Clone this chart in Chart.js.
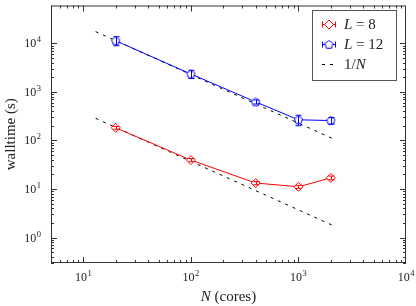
<!DOCTYPE html>
<html>
<head>
<meta charset="utf-8">
<script src="https://cdn.jsdelivr.net/npm/chart.js@4/dist/chart.umd.min.js"></script>
<style>
  html, body { margin: 0; padding: 0; background: #fff; }
</style>
</head>
<body>
<canvas id="walltime" width="416" height="306"></canvas>
<script>
// cores used in each run
const cores = [20, 100, 400, 1000, 2000];

// walltime (s) for each system size, with errors
const wallL8 = [182, 39.5, 13.3, 11.1, 17];
const errL8 = [12, 3, 1, 0.8, 1.5];
const wallL12 = [11300, 2330, 622, 266, 257];
const errL12 = [2400, 450, 60, 65, 40];

// ideal 1/N reference lines (end points)
const idealN = [13, 2100];
const idealUpper = [17400, 108];
const idealLower = [285, 1.77];

const xTicks = [10, 100, 1000, 10000];
const yTicks = [1, 10, 100, 1000, 10000];

const serif = '"Liberation Serif", "DejaVu Serif", serif';
const RED = '#ff0000';
const BLUE = '#0000ff';

function pentagon(color) {
  const c = document.createElement('canvas');
  c.width = 11; c.height = 11;
  const g = c.getContext('2d');
  g.beginPath();
  for (let i = 0; i < 5; i++) {
    const a = -Math.PI / 2 + i * 2 * Math.PI / 5;
    const px = 5.5 + 4.3 * Math.cos(a), py = 5.8 + 4.3 * Math.sin(a);
    i === 0 ? g.moveTo(px, py) : g.lineTo(px, py);
  }
  g.closePath();
  g.fillStyle = '#fff';
  g.fill();
  g.strokeStyle = color;
  g.lineWidth = 1;
  g.stroke();
  return c;
}
const pentBlue = pentagon(BLUE);

function drawPow(ctx, exp, x, y, align) {
  ctx.font = '12px ' + serif;
  const wb = ctx.measureText('10').width;
  ctx.font = '8.5px ' + serif;
  const we = ctx.measureText(String(exp)).width;
  const w = wb + we + 0.5;
  let left = align === 'right' ? x - w : x - w / 2;
  ctx.textBaseline = 'alphabetic';
  ctx.textAlign = 'left';
  ctx.font = '12px ' + serif;
  ctx.fillText('10', left, y + 4);
  ctx.font = '8.5px ' + serif;
  ctx.fillText(String(exp), left + wb + 0.5, y - 1);
}

// frame, inward ticks, tick labels, titles
const axisFrame = {
  id: 'axisFrame',
  afterDraw(chart) {
    const { ctx, chartArea: a, scales: { x, y } } = chart;
    ctx.save();
    ctx.strokeStyle = '#333';
    ctx.lineWidth = 1;
    ctx.strokeRect(a.left + 0.5, a.top + 0.5, a.right - a.left - 1, a.bottom - a.top - 1);

    const tick = (px, isX, len) => {
      px = Math.round(px) + 0.5;
      ctx.beginPath();
      if (isX) {
        ctx.moveTo(px, a.bottom); ctx.lineTo(px, a.bottom - len);
        ctx.moveTo(px, a.top); ctx.lineTo(px, a.top + len);
      } else {
        ctx.moveTo(a.left, px); ctx.lineTo(a.left + len, px);
        ctx.moveTo(a.right, px); ctx.lineTo(a.right - len, px);
      }
      ctx.stroke();
    };
    for (let d = 1; d <= 10000; d *= 10) {
      for (let m = 2; m <= 9; m++) {
        const vx = d * m;
        if (vx >= x.min && vx <= x.max) tick(x.getPixelForValue(vx), true, 3);
        const vy = d * m / 10;
        if (vy >= y.min && vy <= y.max) tick(y.getPixelForValue(vy), false, 3);
      }
    }
    ctx.fillStyle = '#222';
    xTicks.forEach(v => {
      const px = x.getPixelForValue(v);
      if (v < x.max) tick(px, true, 6);
      drawPow(ctx, Math.round(Math.log10(v)), px, a.bottom + 14, 'center');
    });
    yTicks.forEach(v => {
      const py = y.getPixelForValue(v);
      tick(py, false, 6);
      drawPow(ctx, Math.round(Math.log10(v)), a.left - 10, py, 'right');
    });

    // axis titles
    ctx.font = '15px ' + serif;
    ctx.textBaseline = 'middle';
    ctx.textAlign = 'center';
    ctx.save();
    ctx.translate(11, (a.top + a.bottom) / 2);
    ctx.rotate(-Math.PI / 2);
    ctx.fillText('walltime (s)', 0, 0);
    ctx.restore();

    const cx = (a.left + a.right) / 2;
    ctx.font = 'italic 15px ' + serif;
    const wN = ctx.measureText('N').width;
    ctx.font = '15px ' + serif;
    const wRest = ctx.measureText(' (cores)').width;
    const sx = cx - (wN + wRest) / 2;
    ctx.textAlign = 'left';
    ctx.font = 'italic 15px ' + serif;
    ctx.fillText('N', sx, 297);
    ctx.font = '15px ' + serif;
    ctx.fillText(' (cores)', sx + wN, 297);
    ctx.restore();
  }
};

// vertical error bars with caps
const errorBars = {
  id: 'errorBars',
  afterDatasetsDraw(chart) {
    const { ctx, scales: { x, y } } = chart;
    ctx.save();
    ctx.lineWidth = 1;
    chart.data.datasets.forEach(ds => {
      if (!ds.errors) return;
      ctx.strokeStyle = ds.borderColor;
      ds.data.forEach((p, i) => {
        const px = Math.round(x.getPixelForValue(p.x)) + 0.5;
        const top = y.getPixelForValue(p.y + ds.errors[i]);
        const bot = y.getPixelForValue(p.y - ds.errors[i]);
        ctx.beginPath();
        ctx.moveTo(px, top); ctx.lineTo(px, bot);
        ctx.moveTo(px - 3, top); ctx.lineTo(px + 3, top);
        ctx.moveTo(px - 3, bot); ctx.lineTo(px + 3, bot);
        ctx.stroke();
      });
    });
    ctx.restore();
  }
};

// legend box with errorbar markers
const legendBox = {
  id: 'legendBox',
  afterDraw(chart) {
    const ctx = chart.ctx;
    ctx.save();
    ctx.fillStyle = '#fff';
    ctx.fillRect(312.5, 10.5, 84, 70);
    ctx.strokeStyle = '#555';
    ctx.lineWidth = 1;
    ctx.strokeRect(312.5, 10.5, 84, 70);

    const rows = [
      { y: 24, color: RED, marker: 'diamond', seg: [['L', true], [' = 8', false]] },
      { y: 44, color: BLUE, marker: 'pent', seg: [['L', true], [' = 12', false]] },
      { y: 64, color: '#000', marker: 'dash', seg: [['1/', false], ['N', true]] }
    ];
    rows.forEach(r => {
      const yy = r.y + 0.5;
      ctx.strokeStyle = r.color;
      ctx.lineWidth = 1;
      if (r.marker === 'dash') {
        ctx.setLineDash([3, 5]);
        ctx.beginPath(); ctx.moveTo(322, yy); ctx.lineTo(337, yy); ctx.stroke();
        ctx.setLineDash([]);
      } else {
        ctx.beginPath();
        ctx.moveTo(322, yy); ctx.lineTo(336, yy);
        ctx.moveTo(322.5, yy - 3); ctx.lineTo(322.5, yy + 3);
        ctx.moveTo(335.5, yy - 3); ctx.lineTo(335.5, yy + 3);
        ctx.stroke();
        if (r.marker === 'diamond') {
          ctx.beginPath();
          ctx.moveTo(329, yy - 4.5); ctx.lineTo(333.5, yy);
          ctx.lineTo(329, yy + 4.5); ctx.lineTo(324.5, yy);
          ctx.closePath();
          ctx.fillStyle = '#fff'; ctx.fill(); ctx.stroke();
        } else {
          ctx.drawImage(pentBlue, 329 - 5.5, yy - 5.5);
        }
      }
      let tx = 344;
      ctx.fillStyle = '#222';
      ctx.textBaseline = 'middle';
      ctx.textAlign = 'left';
      r.seg.forEach(([t, it]) => {
        ctx.font = (it ? 'italic ' : '') + '15px ' + serif;
        ctx.fillText(t, tx, r.y + 1);
        tx += ctx.measureText(t).width;
      });
    });
    ctx.restore();
  }
};

const pts = ys => cores.map((c, i) => ({ x: c, y: ys[i] }));
const ideal = ys => idealN.map((c, i) => ({ x: c, y: ys[i] }));

new Chart(document.getElementById('walltime'), {
  type: 'line',
  data: {
    datasets: [
      {
        label: 'L = 8', data: pts(wallL8), errors: errL8,
        borderColor: RED, backgroundColor: '#fff', borderWidth: 1,
        pointStyle: 'rectRot', pointRadius: 4.5, pointBorderWidth: 1
      },
      {
        label: 'L = 12', data: pts(wallL12), errors: errL12,
        borderColor: BLUE, backgroundColor: '#fff', borderWidth: 1,
        pointStyle: pentBlue, pointRadius: 4.5
      },
      {
        label: '1/N', data: ideal(idealUpper),
        borderColor: '#000', borderWidth: 1, borderDash: [3, 5], pointRadius: 0
      },
      {
        label: '1/N lower', data: ideal(idealLower),
        borderColor: '#000', borderWidth: 1, borderDash: [3, 5], pointRadius: 0
      }
    ]
  },
  options: {
    responsive: false,
    animation: false,
    devicePixelRatio: 1,
    layout: { padding: { left: 51, right: 10, top: 3, bottom: 43 } },
    plugins: { legend: { display: false }, tooltip: { enabled: false } },
    scales: {
      x: { type: 'logarithmic', min: 5, max: 10000, display: false },
      y: { type: 'logarithmic', min: 0.33, max: 60000, display: false }
    }
  },
  plugins: [errorBars, axisFrame, legendBox]
});
</script>
</body>
</html>
